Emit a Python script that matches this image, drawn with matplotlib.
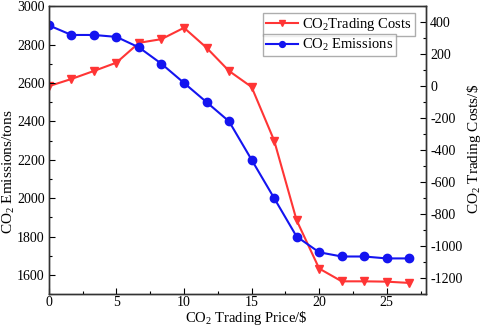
import matplotlib
matplotlib.use('Agg')
import matplotlib.pyplot as plt
from matplotlib.ticker import MultipleLocator

plt.rcParams['font.family'] = ['Liberation Serif', 'DejaVu Serif']
plt.rcParams['mathtext.fontset'] = 'custom'
plt.rcParams['mathtext.rm'] = 'Liberation Serif'
plt.rcParams['mathtext.it'] = 'Liberation Serif:italic'
plt.rcParams['axes.unicode_minus'] = False

# data
price = [0, 1.67, 3.33, 5, 6.67, 8.33, 10, 11.67, 13.33, 15, 16.67, 18.33,
         20, 21.67, 23.33, 25, 26.67]
emissions = [2900, 2850, 2850, 2840, 2785, 2700, 2600, 2500, 2400, 2200,
             2000, 1800, 1718, 1696, 1696, 1686, 1686]
costs = [0, 45, 95, 147, 271, 294, 365, 240, 95, -5, -340, -838,
         -1140, -1220, -1220, -1222, -1230]

red = '#ff3535'
blue = '#1414f0'

fig = plt.figure(figsize=(4.84, 3.25), dpi=100)
fig.subplots_adjust(left=0.101, right=0.880, top=0.981, bottom=0.095)
ax = fig.add_subplot(111)
ax2 = ax.twinx()

l2, = ax2.plot(price, costs, color=red, marker='v', markersize=6, lw=1.5,
               label='CO$_2$Trading Costs')
l1, = ax.plot(price, emissions, color=blue, marker='o', markersize=6, lw=1.5,
              label='CO$_2$ Emissions')
ax.set_zorder(ax2.get_zorder() + 1)
ax.patch.set_visible(False)

ax.set_xlim(0, 27.9)
ax.set_ylim(1500, 3000)
ax2.set_ylim(-1300, 500)

ax.xaxis.set_major_locator(MultipleLocator(5))
ax.xaxis.set_minor_locator(MultipleLocator(2.5))
ax.yaxis.set_major_locator(MultipleLocator(200))
ax.yaxis.set_minor_locator(MultipleLocator(100))
ax2.yaxis.set_major_locator(MultipleLocator(200))
ax2.yaxis.set_minor_locator(MultipleLocator(100))

for a in (ax, ax2):
    a.tick_params(which='major', direction='in', length=4, width=0.8, labelsize=10, pad=3)
    a.tick_params(which='minor', direction='in', length=2, width=0.8)
    for s in a.spines.values():
        s.set_linewidth(1.0)
        s.set_color('#333333')
ax.tick_params(axis='x', which='major', pad=1.5)

ax.set_xlabel(r'CO$_2$ Trading Price/\$', fontsize=10.5)
ax.xaxis.set_label_coords(0.523, -0.05)
ax.set_ylabel('CO$_2$ Emissions/tons', fontsize=11)
ax.yaxis.set_label_coords(-0.085, 0.426)
ax2.set_ylabel(r'CO$_2$ Trading Costs/\$', fontsize=11)
ax2.yaxis.set_label_coords(1.103, 0.505)

leg_kw = dict(fontsize=10.5, fancybox=False, edgecolor='#999999', handlelength=2.2,
              borderpad=0.2, borderaxespad=0, handletextpad=0.3, markerscale=0.7)
leg1 = ax.legend(handles=[l2], loc='upper left', bbox_to_anchor=(0.568, 0.976), **leg_kw)
leg1.get_frame().set_linewidth(1.0)
ax.add_artist(leg1)
leg2 = ax.legend(handles=[l1], loc='upper left', bbox_to_anchor=(0.568, 0.902), **leg_kw)
leg2.get_frame().set_linewidth(1.0)

plt.savefig('out.png', dpi=100)
